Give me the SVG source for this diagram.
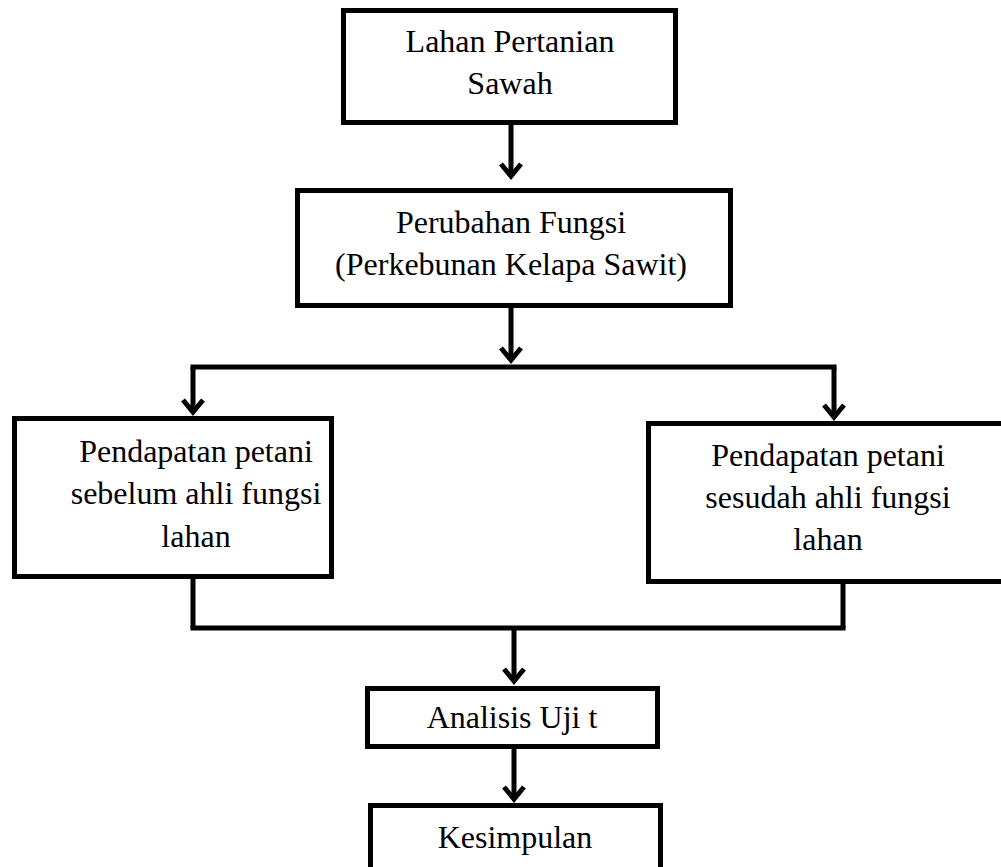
<svg xmlns="http://www.w3.org/2000/svg" width="1001" height="867" viewBox="0 0 1001 867">
<style>
.box{fill:#fff;stroke:#000;stroke-width:5}
.t{font-family:"Liberation Serif","Times New Roman",serif;font-size:32px;fill:#000;text-anchor:middle}
.c{fill:none;stroke:#000;stroke-width:5}
</style>
<defs>
<marker id="ah" markerUnits="userSpaceOnUse" viewBox="-20 -15 30 30" markerWidth="30" markerHeight="30" refX="0" refY="0" orient="auto">
<path d="M-12,-10 L0,0 L-12,10" fill="none" stroke="#000" stroke-width="5" stroke-linejoin="miter"/>
</marker>
</defs>
<rect width="1001" height="867" fill="#fff"/>
<g id="connectors">
<path class="c" d="M511,125 V176" marker-end="url(#ah)"/>
<path class="c" d="M511,308 V360" marker-end="url(#ah)"/>
<path class="c" d="M190.5,367 H836.5"/>
<path class="c" d="M193,367 V412" marker-end="url(#ah)"/>
<path class="c" d="M834,367 V417" marker-end="url(#ah)"/>
<path class="c" d="M193,579 V628"/>
<path class="c" d="M843,584 V628"/>
<path class="c" d="M190.5,628 H845.5"/>
<path class="c" d="M514,628 V681" marker-end="url(#ah)"/>
<path class="c" d="M514,749 V799" marker-end="url(#ah)"/>
</g>
<g id="n1">
<rect class="box" x="343.5" y="10.5" width="332" height="112"/>
<text class="t" x="510" y="52">Lahan Pertanian</text>
<text class="t" x="510" y="94">Sawah</text>
</g>
<g id="n2">
<rect class="box" x="297.5" y="190.5" width="433" height="115"/>
<text class="t" x="511" y="233">Perubahan Fungsi</text>
<text class="t" x="511" y="275">(Perkebunan Kelapa Sawit)</text>
</g>
<g id="n3">
<rect class="box" x="14.5" y="418.5" width="317" height="158"/>
<text class="t" x="196" y="462">Pendapatan petani</text>
<text class="t" x="196" y="504">sebelum ahli fungsi</text>
<text class="t" x="196" y="547">lahan</text>
</g>
<g id="n4">
<rect class="box" x="648.5" y="423.5" width="400" height="158"/>
<text class="t" x="828" y="466">Pendapatan petani</text>
<text class="t" x="828" y="508">sesudah ahli fungsi</text>
<text class="t" x="828" y="550">lahan</text>
</g>
<g id="n5">
<rect class="box" x="367.5" y="688.5" width="290" height="58"/>
<text class="t" x="512" y="728">Analisis Uji t</text>
</g>
<g id="n6">
<rect class="box" x="370.5" y="805.5" width="290" height="80"/>
<text class="t" x="515" y="848">Kesimpulan</text>
</g>
</svg>
